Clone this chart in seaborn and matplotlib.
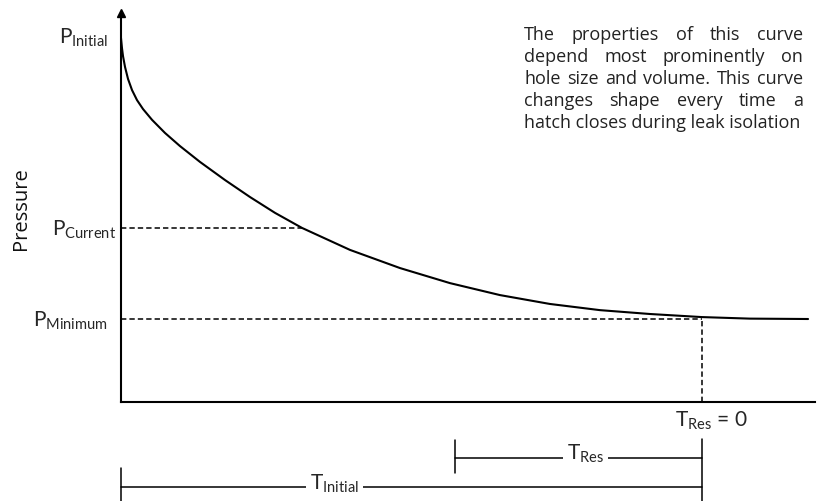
"""Pressure decay schematic during leak isolation"""

import matplotlib.pyplot as plt
import seaborn as sns

# curve (time and pressure, arbitrary units 0-100)
time = [0, 0.14, 0.29, 0.58, 1.01, 1.59, 2.31, 3.17, 4.47, 6.34, 8.50, 11.38, 14.99,
        18.59, 22.19, 26.08, 33.0, 40.2, 47.4, 54.6, 61.8, 69.0, 76.2, 83.7, 90.6, 99.0]
pressure = [94.3, 91.7, 89.6, 86.8, 83.7, 80.8, 78.2, 75.9, 73.1, 69.7, 66.3, 62.2, 57.5,
            53.1, 49.0, 45.1, 39.4, 34.7, 30.8, 27.7, 25.4, 23.8, 22.8, 22.0, 21.6, 21.5]

# marked levels and times
p_levels = [94.8, 45.1, 21.5]
p_labels = [r'P$_{\mathrm{Initial}}$', r'P$_{\mathrm{Current}}$', r'P$_{\mathrm{Minimum}}$']
p_label_x = [-0.019, -0.007, -0.019]
t_current = 26.08
t_res_zero = 83.7
t_res_start = 48.1

note_lines = [
    'The properties of this curve',
    'depend most prominently on',
    'hole size and volume. This curve',
    'changes shape every time a',
    'hatch closes during leak isolation',
]

sns.set_style('white')
plt.rcParams['font.family'] = ['Lato', 'DejaVu Sans']
plt.rcParams['mathtext.fontset'] = 'custom'
plt.rcParams['mathtext.rm'] = 'Lato'
plt.rcParams['mathtext.it'] = 'Lato:italic'
plt.rcParams['mathtext.bf'] = 'Lato:bold'

W, H = 836, 501
fig = plt.figure(figsize=(W / 100, H / 100), dpi=100)
ax = fig.add_axes([121 / W, 1 - 402 / H, (815 - 121) / W, (402 - 16) / H])

sns.lineplot(x=time, y=pressure, ax=ax, color='black', linewidth=1.5,
             sort=False, estimator=None)
ax.set_xlim(0, 100)
ax.set_ylim(0, 100)

# axes look
sns.despine(ax=ax)
for side in ['left', 'bottom']:
    ax.spines[side].set_color('black')
    ax.spines[side].set_linewidth(1.5)
ax.set_xticks([])
ax.set_yticks([])
ax.plot([0], [1.008], marker='^', color='black', markersize=5.5,
        transform=ax.transAxes, clip_on=False)

# dashed guides
dash = dict(color='black', linewidth=1.1, linestyle=(0, (3.5, 2)))
ax.hlines(p_levels[1], 0, t_current, **dash)
ax.hlines(p_levels[2], 0, t_res_zero, **dash)
ax.vlines(t_res_zero, 0, p_levels[2], **dash)

# level labels
ytrans = ax.get_yaxis_transform()
for lvl, lab, lx in zip(p_levels, p_labels, p_label_x):
    ax.text(lx, lvl - 1.95, lab, transform=ytrans, ha='right', va='baseline',
            fontsize=15)

ax.yaxis.set_label_coords(-0.129, 0.458)
ax.set_ylabel('Pressure', fontsize=14.5, color='#111111', family='Open Sans')

# time brackets below the axis
xtrans = ax.get_xaxis_transform()
line = dict(color='black', linewidth=1.1, clip_on=False, transform=xtrans)
ax.text(79.8, -0.065, r'T$_{\mathrm{Res}}$ = 0', transform=xtrans,
        ha='left', va='baseline', fontsize=15)
ax.plot([t_res_zero, t_res_zero], [-0.096, -0.26], **line)
ax.plot([t_res_start, t_res_zero], [-0.145, -0.145], **line)
ax.plot([t_res_start, t_res_start], [-0.098, -0.184], **line)
ax.plot([0, t_res_zero], [-0.220, -0.220], **line)
ax.plot([0, 0], [-0.171, -0.26], **line)
box = dict(facecolor='white', edgecolor='none', pad=3)
ax.text(66.9, -0.150, r'T$_{\mathrm{Res}}$', transform=xtrans, ha='center',
        va='baseline', fontsize=15, bbox=box)
ax.text(30.8, -0.228, r'T$_{\mathrm{Initial}}$', transform=xtrans, ha='center',
        va='baseline', fontsize=15, bbox=box)

# justified note in the top right
x0, x1 = (524 - 121) / 694, (803 - 121) / 694
fig.canvas.draw()
renderer = fig.canvas.get_renderer()
ax_w = ax.get_window_extent(renderer).width

# size the note so its last (unjustified) line spans ~276 px like the original
probe = ax.text(x0, 0.5, note_lines[-1], transform=ax.transAxes, fontsize=12,
                family='Open Sans')
note_size = 12 * 276 / probe.get_window_extent(renderer).width
probe.remove()

note = dict(transform=ax.transAxes, ha='left', va='baseline', fontsize=note_size,
            color='#222222', family='Open Sans')
for i, txt in enumerate(note_lines):
    yb = (402 - (40 + 22 * i)) / 386
    if i == len(note_lines) - 1:
        ax.text(x0, yb, txt, **note)
        continue
    words = [ax.text(x0, yb, w, **note) for w in txt.split()]
    widths = [w.get_window_extent(renderer).width for w in words]
    gap = ((x1 - x0) * ax_w - sum(widths)) / (len(words) - 1)
    pos = 0.0
    for w, wd in zip(words, widths):
        w.set_x(x0 + pos / ax_w)
        pos += wd + gap

fig.savefig('out.png', dpi=100)
